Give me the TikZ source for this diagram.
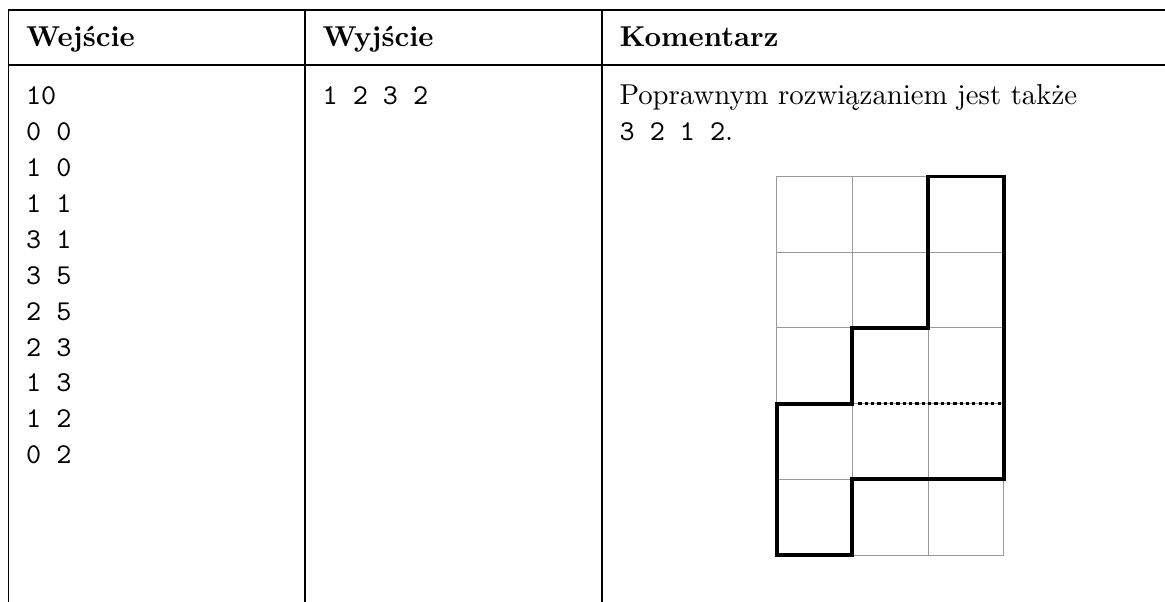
\documentclass[tikz,border=0pt]{standalone}
\usepackage{fontspec}
\begin{document}
\begin{tikzpicture}[x=0.3478pt,y=-0.3478pt,
  rule/.style={line width=0.4pt, black},
  txt/.style={anchor=base west, inner sep=0pt, font=\fontsize{10}{12}\selectfont},
  hdr/.style={anchor=base west, inner sep=0pt, font=\fontsize{10}{12}\selectfont\bfseries},
  code/.style={anchor=base west, inner sep=0pt, font=\fontsize{10}{12}\selectfont\ttfamily},
  gridline/.style={line width=0.3pt, black!40},
  outline/.style={line width=1.35pt, black, line join=miter},
  dotline/.style={line width=1.15pt, black, dash pattern=on 1.1pt off 1.1pt}]
\useasboundingbox (0,0) rectangle (1165,602);
% table rules
\draw[rule] (8.5,10) -- (1165,10);
\draw[rule] (8.5,65) -- (1165,65);
\draw[rule] (8.5,10) -- (8.5,602);
\draw[rule] (305,10) -- (305,602);
\draw[rule] (602,10) -- (602,602);
% headers
\node[hdr] (h1) at (25.5,47) {Wejście};
\node[hdr] (h2) at (322,47) {Wyjście};
\node[hdr] (h3) at (619,47) {Komentarz};
% input column
\foreach \t [count=\i from 0] in {10,0 0,1 0,1 1,3 1,3 5,2 5,2 3,1 3,1 2,0 2}{
  \node[code] (in\i) at (25.5,{104+36*\i}) {\t};
}
% output column
\node[code] (out) at (322,104) {1 2 3 2};
% comment column
\node[txt] (c1) at (619,104) {Poprawnym rozwiązaniem jest także};
\node[txt] (c2) at (619,140) {\texttt{3 2 1 2}.};
% figure
\begin{scope}[shift={(776.7,555)}, x=26.33pt, y=26.33pt]
  \foreach \c in {0,1,2,3} { \draw[gridline] (\c,0) -- (\c,5); }
  \foreach \r in {0,1,2,3,4,5} { \draw[gridline] (0,\r) -- (3,\r); }
  \draw[outline] (0,0) -- (1,0) -- (1,1) -- (3,1) -- (3,5) -- (2,5) -- (2,3) -- (1,3) -- (1,2) -- (0,2) -- cycle;
  \draw[dotline] (1.08,2) -- (3,2);
\end{scope}
\end{tikzpicture}
\end{document}
